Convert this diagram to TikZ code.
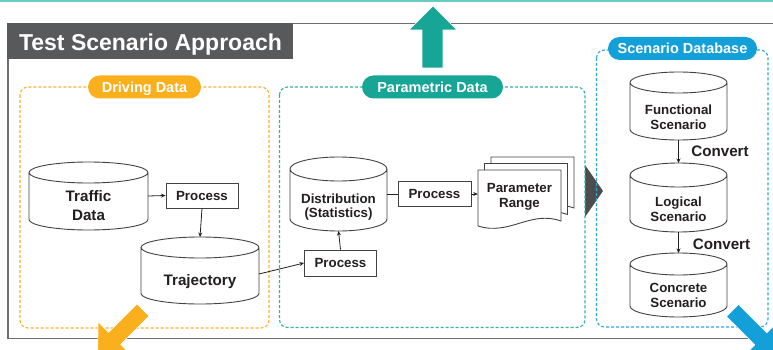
\documentclass[tikz,border=0pt]{standalone}
\usepackage{fontspec}
\setmainfont{Liberation Sans}
\usetikzlibrary{arrows.meta,calc}
\definecolor{orangeC}{HTML}{FAAF1D}
\definecolor{tealC}{HTML}{17A696}
\definecolor{blueC}{HTML}{139FD7}
\definecolor{titleC}{HTML}{58595B}
\definecolor{triC}{HTML}{4D4D4F}
\definecolor{frameC}{HTML}{6D6E71}
\definecolor{toplineC}{HTML}{6CCBC0}
\definecolor{inkC}{HTML}{231F20}
\definecolor{oDash}{HTML}{F8B133}
\definecolor{tDash}{HTML}{35B1A3}
\definecolor{bDash}{HTML}{2AA7DF}

\newcommand\cylshape[2]{%
 \filldraw[cylline] let \p1=(#1.north west), \p2=(#1.south east) in
 (\x1,\y1-#2pt) -- (\x1,\y2+#2pt)
 arc[start angle=180,end angle=360,x radius={(\x2-\x1)/2},y radius=#2pt]
 -- (\x2,\y1-#2pt)
 arc[start angle=0,end angle=360,x radius={(\x2-\x1)/2},y radius=#2pt];}

\tikzset{
 cylline/.style={draw=inkC!85, line width=0.9pt, fill=white},
 cylbox/.style={inner sep=0pt, outer sep=0pt, draw=none},
 procbox/.style={draw=inkC!85, line width=0.9pt, fill=white, minimum width=72pt,
   minimum height=25pt, inner sep=0pt, font=\fontsize{13.3}{15}\selectfont\bfseries,
   text=inkC, text height=9.5pt, text depth=0pt},
 conn/.style={draw=inkC, line width=0.8pt, -{Stealth[length=4.5pt,width=4pt]}},
 plainline/.style={draw=inkC, line width=0.8pt},
 pill/.style={rounded corners=11.5pt, inner sep=0pt, minimum height=23pt, text=white,
   font=\fontsize{14.5}{16}\selectfont\bfseries, text height=10.4pt, text depth=0pt},
 region/.style={rounded corners=8pt, line width=1.1pt, dash pattern=on 3pt off 2pt},
 celltext/.style={align=center, text=inkC, inner sep=0pt},
 bigtext/.style={celltext, font=\fontsize{15.2}{18.3}\selectfont\bfseries},
 smalltext/.style={celltext, font=\fontsize{13.3}{14.6}\selectfont\bfseries},
 convtext/.style={text=inkC, inner sep=0pt, font=\fontsize{15.2}{18}\selectfont\bfseries,
   text height=10.9pt, text depth=0pt},
 docshape/.style={draw=inkC!85, line width=0.9pt, fill=white},
}

\begin{document}
\begin{tikzpicture}[x=1pt,y=-1pt]
\useasboundingbox (0,0) rectangle (773,350);
\clip (0,0) rectangle (773,350);

% top line
\fill[toplineC] (0,0) rectangle (773,1.6);

% outer frame
\draw[frameC, line width=1.5pt] (800,23.5) -- (8,23.5) -- (8,338.5) -- (800,338.5);

% title bar
\fill[titleC] (7.25,23.5) rectangle (293,59);
\node[text=white, font=\fontsize{23}{26}\selectfont\bfseries, anchor=base, inner sep=0pt] (title) at (150.5,50.9) {Test Scenario Approach};

% triangle between parametric and database
\fill[triC] (585,165) -- (603,191) -- (585,217) -- cycle;

% dashed regions
\draw[region, oDash] (20,87) rectangle (269,328);
\draw[region, tDash] (279.5,87) rectangle (585,327.5);
\draw[region, bDash] (596.5,50) rectangle (768,327);

% pills
\node[pill, fill=orangeC, minimum width=113pt] (lbDrive) at (144.5,87) {Driving Data};
\node[pill, fill=tealC, minimum width=141pt] (lbParam) at (432.5,87) {Parametric Data};
\node[pill, fill=blueC, minimum width=149pt] (lbDB) at (682.5,48.5) {Scenario Database};

% cylinders
\node[cylbox, minimum width=119pt, minimum height=68pt] (td) at (88.5,196) {};
\cylshape{td}{10.5}
\node[bigtext] (tdT) at (88.5,205.5) {Traffic\\Data};

\node[cylbox, minimum width=118pt, minimum height=67pt] (traj) at (200,270.5) {};
\cylshape{traj}{10.5}
\node[bigtext, text height=10.9pt, text depth=0pt] (trajT) at (200,280) {Trajectory};

\node[cylbox, minimum width=97pt, minimum height=74pt] (dist) at (338.5,194) {};
\cylshape{dist}{12}
\node[smalltext] (distT) at (338.5,207) {Distribution\\(Statistics)};

\node[cylbox, minimum width=97pt, minimum height=68pt] (func) at (678.5,106) {};
\cylshape{func}{10.5}
\node[smalltext] (funcT) at (678.5,117) {Functional\\Scenario};

\node[cylbox, minimum width=97pt, minimum height=69pt] (logi) at (678.5,197.5) {};
\cylshape{logi}{12}
\node[smalltext] (logiT) at (678.5,209.5) {Logical\\Scenario};

\node[cylbox, minimum width=97pt, minimum height=64pt] (conc) at (678.5,285) {};
\cylshape{conc}{11}
\node[smalltext] (concT) at (678.5,295.5) {Concrete\\Scenario};

% process boxes
\node[procbox] (p1) at (202,195.5) {Process};
\node[procbox, minimum height=26pt] (p2) at (340.5,263) {Process};
\node[procbox, minimum width=73pt] (p3) at (434.5,194) {Process};

% parameter range documents
\foreach \s in {13,6.5,0} {
 \filldraw[docshape, shift={(\s,-\s)}] (478,170) -- (561,170) -- (561,221)
   .. controls (530,210) and (510,236) .. (478,226) -- cycle;
}
\node[smalltext, minimum width=83pt, minimum height=50pt] (doc) at (519.5,197) {Parameter\\Range};

% convert labels
\node[convtext] (cv1) at (720,151) {Convert};
\node[convtext] (cv2) at (721.5,244) {Convert};

% connectors
\draw[conn] (td.east) -- (p1.west);
\draw[conn] (p1.south) -- (traj.north);
\draw[conn] ([yshift=-3.5pt]traj.east) -- (p2.west);
\draw[conn] (p2.north) -- (dist.south);
\draw[plainline] (dist.east) -- (p3.west);
\draw[conn] (p3.east) -- (p3.east -| doc.west);
\draw[conn] (func.south) -- (logi.north);
\draw[conn] (logi.south) -- (conc.north);

% big arrows
\filldraw[fill=tealC, draw=white, line width=0.6pt] (422,68) -- (443,68) -- (443,30) -- (457,30) -- (433,6) -- (409,30) -- (422,30) -- cycle;
\filldraw[fill=orangeC, draw=white, line width=0.6pt] (137.0,304.0) -- (108.7,332.3) -- (98.1,321.7) -- (97.75,355.25) -- (131.3,354.9) -- (120.7,344.3) -- (149.0,316.0) -- cycle;
\filldraw[fill=blueC, draw=white, line width=0.6pt] (726.5,316.5) -- (754.8,344.8) -- (744.2,355.4) -- (777.75,355.75) -- (777.4,322.2) -- (766.8,332.8) -- (738.5,304.5) -- cycle;
\end{tikzpicture}
\end{document}
